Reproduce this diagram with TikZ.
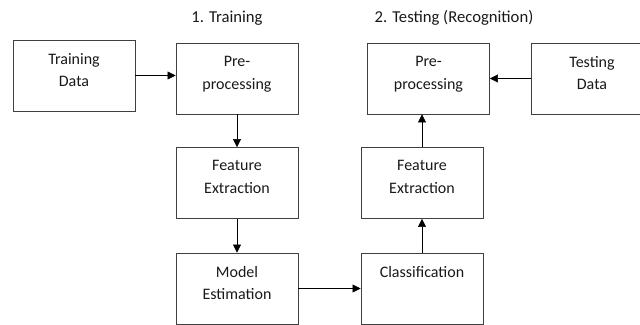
\documentclass[tikz,border=0pt]{standalone}
\usepackage{fontspec}
\setmainfont{Carlito}
\usetikzlibrary{arrows.meta}

\begin{document}
\begin{tikzpicture}[
    x=0.75pt, y=-0.75pt,
    arrowtip/.style={
      -{Triangle[length=6pt,width=6pt]}
    },
    block/.style={draw=black!75,line width=0.6pt,minimum width=91.5pt,
      minimum height=53.25pt,inner sep=0pt},
    blocktext/.style={anchor=north,align=center,inner sep=0pt,yshift=-10pt,
      text=black!90,font=\fontsize{12}{17}\selectfont},
    heading/.style={text=black!90,font=\fontsize{12.5}{15}\selectfont}
  ]
    \useasboundingbox (0,0) rectangle (640,325);
    \clip (0,0) rectangle (640,325);

    \node[heading] (trtitle) at (227,18) {1. Training};
    \node[heading] (tetitle) at (454,18) {2. Testing (Recognition)};

    % training side
    \node[block,label={[blocktext,name=trdatat]north:{Training\\Data}}] (trdata) at (74,75.5) {};
    \node[block,label={[blocktext,name=trpret]north:{Pre-\\processing}}] (trpre) at (237,78.5) {};
    \node[block,label={[blocktext,name=trfeatt]north:{Feature\\Extraction}}] (trfeat) at (237,183) {};
    \node[block,label={[blocktext,name=trmodelt]north:{Model\\Estimation}}] (trmodel) at (237,288.5) {};

    % testing side
    \node[block,label={[blocktext,name=tepret]north:{Pre-\\processing}}] (tepre) at (428.5,78.5) {};
    \node[block,label={[blocktext,name=tedatat]north:{Testing\\Data}}] (tedata) at (592,78.5) {};
    \node[block,label={[blocktext,name=tefeatt]north:{Feature\\Extraction}}] (tefeat) at (422,183) {};
    \node[block,label={[blocktext,name=teclasst]north:{Classification}}] (teclass) at (422,288.5) {};

    \draw[arrowtip] (trdata.east) -- (trdata.east -| trpre.west);
    \draw[arrowtip] (trpre.south) -- (trfeat.north);
    \draw[arrowtip] (trfeat.south) -- (trmodel.north);
    \draw[arrowtip] (trmodel.east) -- (teclass.west);
    \draw[arrowtip] (teclass.north) -- (tefeat.south);
    \draw[arrowtip] (tefeat.north) -- (tefeat.north |- tepre.south);
    \draw[arrowtip] (tedata.west) -- (tepre.east);
  \end{tikzpicture}
\end{document}
